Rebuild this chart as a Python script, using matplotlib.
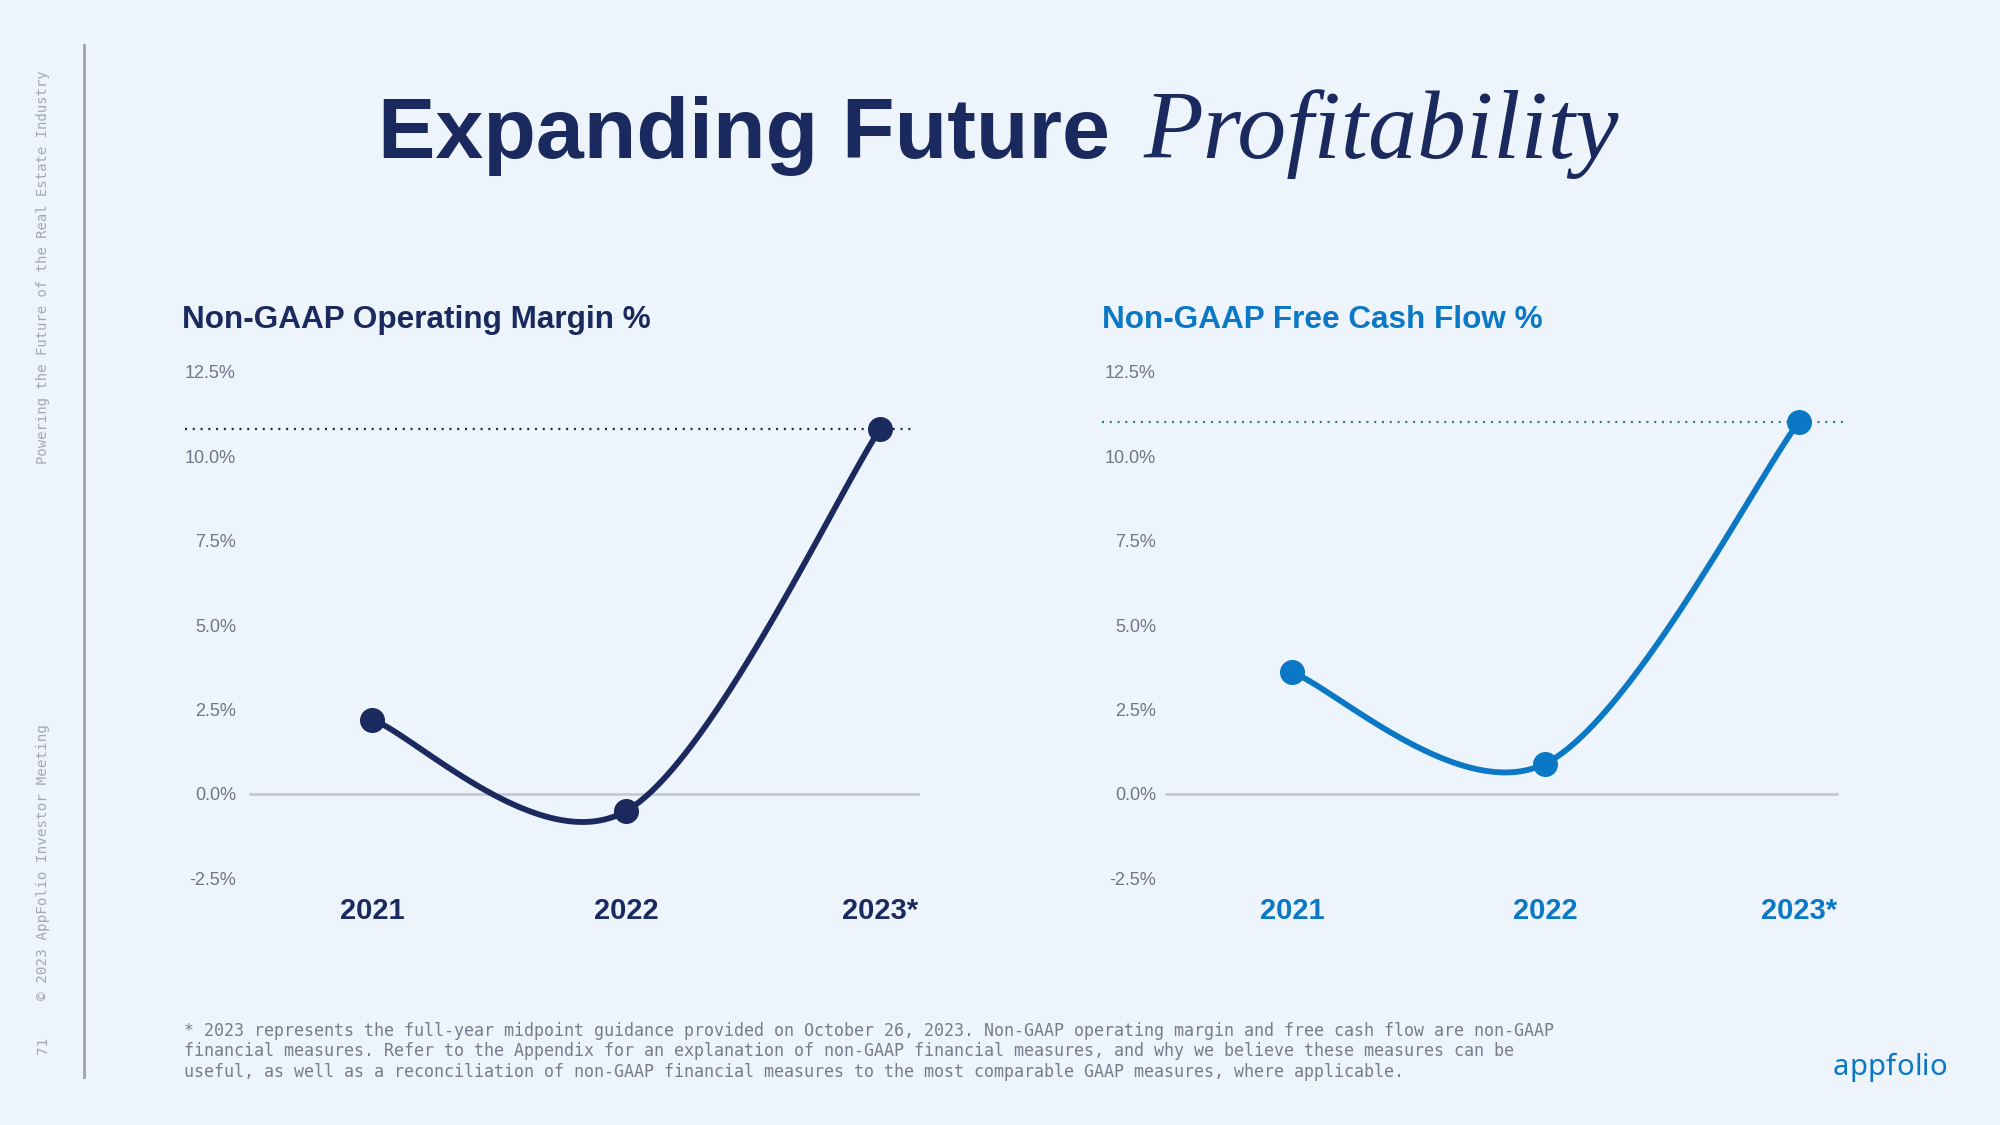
import matplotlib
matplotlib.use('Agg')
import matplotlib.pyplot as plt
import numpy as np

# ---------------- data ----------------
years = ['2021', '2022', '2023*']
op_margin = [2.2, -0.5, 10.8]
fcf_margin = [3.6, 0.9, 11.0]
ytick_vals = [-2.5, 0.0, 2.5, 5.0, 7.5, 10.0, 12.5]
ytick_labels = ['-2.5%', '0.0%', '2.5%', '5.0%', '7.5%', '10.0%', '12.5%']
title_bold = 'Expanding Future'
title_italic = 'Profitability'
left_title = 'Non-GAAP Operating Margin %'
right_title = 'Non-GAAP Free Cash Flow %'
side_top = 'Powering the Future of the Real Estate Industry'
side_bottom = '\u00a9 2023 AppFolio Investor Meeting'
page_no = '71'
footnote = ('* 2023 represents the full-year midpoint guidance provided on October 26, 2023. Non-GAAP operating margin and free cash flow are non-GAAP\n'
            'financial measures. Refer to the Appendix for an explanation of non-GAAP financial measures, and why we believe these measures can be\n'
            'useful, as well as a reconciliation of non-GAAP financial measures to the most comparable GAAP measures, where applicable.')
logo = 'appfolio'

# ---------------- style ----------------
W, H = 2000, 1125
BG = '#EDF4FC'
NAVY = '#1B2A5E'
BLUE = '#0A78C4'
TICK = '#6E7687'
ZERO = '#C6CAD4'
DOT_L = '#1B2438'
DOT_R = '#2A7A90'
FOOT = '#767C8C'
SIDE = '#A3A8B2'
SANS = 'Liberation Sans'
SERIF = 'Liberation Serif'
MONO = 'DejaVu Sans Mono'

fig = plt.figure(figsize=(W / 100, H / 100), dpi=100, facecolor=BG)


def fx(x):
    return x / W


def fy(y):
    return 1 - y / H


def cardinal(xs, ys, n=60):
    """Cardinal (Catmull-Rom style) bezier smoothing through the data points."""
    xs = np.asarray(xs, float)
    ys = np.asarray(ys, float)
    px = np.concatenate([[xs[0]], xs, [xs[-1]]])
    py = np.concatenate([[ys[0]], ys, [ys[-1]]])
    outx, outy = [], []
    t = np.linspace(0, 1, n)
    for i in range(1, len(px) - 2):
        p0x, p1x = px[i], px[i + 1]
        p0y, p1y = py[i], py[i + 1]
        c1x = p0x + (px[i + 1] - px[i - 1]) / 6
        c1y = p0y + (py[i + 1] - py[i - 1]) / 6
        c2x = p1x - (px[i + 2] - px[i]) / 6
        c2y = p1y - (py[i + 2] - py[i]) / 6
        bx = (1 - t) ** 3 * p0x + 3 * (1 - t) ** 2 * t * c1x + 3 * (1 - t) * t ** 2 * c2x + t ** 3 * p1x
        by = (1 - t) ** 3 * p0y + 3 * (1 - t) ** 2 * t * c1y + 3 * (1 - t) * t ** 2 * c2y + t ** 3 * p1y
        outx.append(bx)
        outy.append(by)
    return np.concatenate(outx), np.concatenate(outy)


def panel(left_px, right_px, xlim, values, color, dot_color, zero_span, dot_xmax, label_pad_px, title, title_x):
    ax = fig.add_axes([fx(left_px), fy(892), (right_px - left_px) / W, 534 / H])
    ax.set_facecolor('none')
    ax.set_xlim(*xlim)
    ax.set_ylim(-2.9, 12.9)
    for s in ax.spines.values():
        s.set_visible(False)
    ax.set_xticks([])
    ax.set_yticks(ytick_vals)
    ax.set_yticklabels(ytick_labels, fontsize=13, color=TICK, family=SANS)
    ax.tick_params(axis='y', length=0, pad=-label_pad_px * 0.72)
    ax.axhline(0, xmin=zero_span[0], xmax=zero_span[1], color=ZERO, lw=2.0, zorder=1)
    ax.axhline(values[-1], xmin=0, xmax=dot_xmax, color=dot_color, lw=1.6,
               linestyle=(0, (0.9, 2.6)), zorder=1)
    xi = np.arange(len(values))
    sx, sy = cardinal(xi, values)
    ax.plot(sx, sy, color=color, lw=4.2, solid_capstyle='round', zorder=3)
    ax.plot(xi, values, 'o', color=color, ms=17, zorder=4)
    for i, lab in enumerate(years):
        ax.text(i, -3.71, lab, ha='center', va='baseline', fontsize=21, fontweight='bold',
                color=color, family=SANS, clip_on=False)
    fig.text(fx(title_x), fy(328), title, fontsize=22.7, fontweight='bold', color=color,
             family=SANS, va='baseline', ha='left')
    return ax


panel(185, 920, (-0.738, 2.157), op_margin, NAVY, DOT_L, (0.088, 1.0), 0.99, 51, left_title, 182)
panel(1102, 1846, (-0.75, 2.187), fcf_margin, BLUE, DOT_R, (0.086, 0.988), 1.0, 54, right_title, 1102)

# ---------------- title ----------------
fig.text(fx(378), fy(158), title_bold, fontsize=62, fontweight='bold', color=NAVY,
         family=SANS, va='baseline', ha='left')
fig.text(fx(1144), fy(158), title_italic, fontsize=70.5, fontstyle='italic', color=NAVY,
         family=SERIF, va='baseline', ha='left')

# ---------------- sidebar ----------------
fig.add_artist(plt.Line2D([fx(84), fx(84)], [fy(45), fy(1077)], color='#9EA3AD', lw=2.0))
fig.text(fx(43), fy(70), side_top, rotation=90, fontsize=10, family=MONO, color=SIDE,
         ha='center', va='top')
fig.text(fx(43), fy(1000), side_bottom, rotation=90, fontsize=10.3, family=MONO, color=SIDE,
         ha='center', va='bottom')
fig.text(fx(43), fy(1054), page_no, rotation=90, fontsize=10.3, family=MONO, color=SIDE,
         ha='center', va='bottom')

# ---------------- footnote ----------------
fig.text(fx(184), fy(1022), footnote, fontsize=12.0, family=MONO, color=FOOT,
         ha='left', va='top', linespacing=1.17)

# ---------------- logo ----------------
fig.canvas.draw()
r = fig.canvas.get_renderer()
x = 1833
for ch in logo:
    t = fig.text(fx(x), fy(1075), ch, fontsize=21, family='Noto Sans', fontweight='bold',
                 color=BLUE, va='baseline', ha='left')
    bb = t.get_window_extent(renderer=r)
    x += bb.width + 0.2

fig.savefig('out.png', dpi=100, facecolor=BG)
